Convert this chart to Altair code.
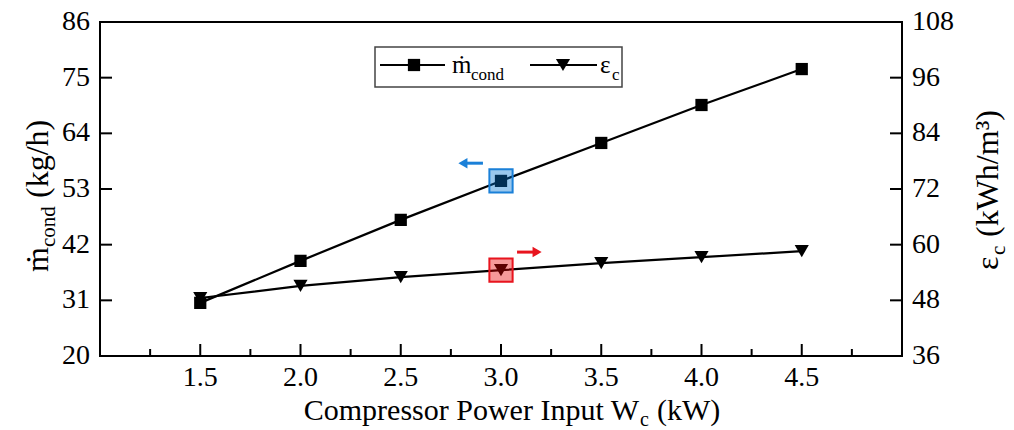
import altair as alt
import pandas as pd

# ---- data ----
power = [1.5, 2.0, 2.5, 3.0, 3.5, 4.0, 4.5]
m_cond = [30.5, 38.8, 46.9, 54.6, 62.1, 69.6, 76.7]
eps_c = [48.5, 51.1, 53.0, 54.5, 56.0, 57.3, 58.6]

x_major = [1.5, 2.0, 2.5, 3.0, 3.5, 4.0, 4.5]
x_minor = [1.25, 1.75, 2.25, 2.75, 3.25, 3.75, 4.25, 4.75]
left_ticks = [20, 31, 42, 53, 64, 75, 86]
right_ticks = [36, 48, 60, 72, 84, 96, 108]

highlight_x = 3.0
arrow_left = {"x": [2.81], "x2": [2.91], "y": [58.1]}
arrow_right = {"x": [3.08], "x2": [3.18], "y": [58.4]}

W, H = 802, 334
FONT = "Liberation Serif"
TICKFS = 28
BLUE, BLUE_F = "#1a80d8", "#0072d2"
RED, RED_F = "#e8141e", "#e60000"

df = pd.DataFrame({"P": power, "m": m_cond, "e": eps_c})

xs = alt.Scale(domain=[1.0, 5.0], nice=False, zero=False)
ls = alt.Scale(domain=[20, 86], nice=False, zero=False)
rs = alt.Scale(domain=[36, 108], nice=False, zero=False)

xq = alt.X("P:Q", scale=xs, axis=None)
one = pd.DataFrame({"a": [0]})
base = alt.Chart(df)

# ---- left group (m_cond) ----
line_m = base.mark_line(color="black", strokeWidth=2.2).encode(
    x=xq, y=alt.Y("m:Q", scale=ls, axis=None)
)
pts_m = base.mark_square(size=150, color="black", opacity=1).encode(
    x=xq, y=alt.Y("m:Q", scale=ls, axis=None)
)
hl_m = base.transform_filter(alt.datum.P == highlight_x).mark_square(
    size=540, fill=BLUE_F, fillOpacity=0.4, stroke=BLUE, strokeWidth=2
).encode(x=xq, y=alt.Y("m:Q", scale=ls, axis=None))
arr_l_df = pd.DataFrame(arrow_left)
arr_l = alt.Chart(arr_l_df).mark_rule(color=BLUE, strokeWidth=3).encode(
    x=alt.X("x:Q", scale=xs, axis=None), x2="x2:Q", y=alt.Y("y:Q", scale=ls, axis=None)
)
arr_l_head = alt.Chart(arr_l_df).mark_point(shape="triangle-left", size=110, filled=True, color=BLUE, opacity=1).encode(
    x=alt.X("x:Q", scale=xs, axis=None), y=alt.Y("y:Q", scale=ls, axis=None)
)
xt_major = alt.Chart(pd.DataFrame({"v": x_major})).mark_rule(color="black", strokeWidth=2).encode(
    x=alt.X("v:Q", scale=xs, axis=None), y=alt.value(H), y2=alt.value(H - 12)
)
xt_minor = alt.Chart(pd.DataFrame({"v": x_minor})).mark_rule(color="black", strokeWidth=2).encode(
    x=alt.X("v:Q", scale=xs, axis=None), y=alt.value(H), y2=alt.value(H - 7)
)
x_labels = alt.Chart(pd.DataFrame({"v": x_major})).mark_text(
    font=FONT, fontSize=TICKFS, baseline="top", align="center", color="black"
).encode(
    x=alt.X("v:Q", scale=xs, axis=None), y=alt.value(H + 8), text=alt.Text("v:Q", format=".1f")
)
lt = alt.Chart(pd.DataFrame({"v": left_ticks[1:-1]})).mark_rule(color="black", strokeWidth=2).encode(
    y=alt.Y("v:Q", scale=ls, axis=None), x=alt.value(0), x2=alt.value(12)
)
l_labels = alt.Chart(pd.DataFrame({"v": left_ticks})).mark_text(
    font=FONT, fontSize=TICKFS, baseline="middle", align="right", color="black"
).encode(
    y=alt.Y("v:Q", scale=ls, axis=None), x=alt.value(-10), text=alt.Text("v:Q", format="d")
)
left_group = alt.layer(line_m, pts_m, hl_m, arr_l, arr_l_head, xt_major, xt_minor, x_labels, lt, l_labels)

# ---- right group (eps_c) ----
line_e = base.mark_line(color="black", strokeWidth=2.2).encode(
    x=xq, y=alt.Y("e:Q", scale=rs, axis=None)
)
pts_e = base.mark_point(shape="triangle-down", size=200, filled=True, color="black", opacity=1).encode(
    x=xq, y=alt.Y("e:Q", scale=rs, axis=None)
)
hl_e = base.transform_filter(alt.datum.P == highlight_x).mark_square(
    size=540, fill=RED_F, fillOpacity=0.4, stroke=RED, strokeWidth=2
).encode(x=xq, y=alt.Y("e:Q", scale=rs, axis=None))
arr_r_df = pd.DataFrame(arrow_right)
arr_r = alt.Chart(arr_r_df).mark_rule(color=RED, strokeWidth=3).encode(
    x=alt.X("x:Q", scale=xs, axis=None), x2="x2:Q", y=alt.Y("y:Q", scale=rs, axis=None)
)
arr_r_head = alt.Chart(arr_r_df).mark_point(shape="triangle-right", size=110, filled=True, color=RED, opacity=1).encode(
    x=alt.X("x2:Q", scale=xs, axis=None), y=alt.Y("y:Q", scale=rs, axis=None)
)
rt = alt.Chart(pd.DataFrame({"v": right_ticks[1:-1]})).mark_rule(color="black", strokeWidth=2).encode(
    y=alt.Y("v:Q", scale=rs, axis=None), x=alt.value(W), x2=alt.value(W - 12)
)
r_labels = alt.Chart(pd.DataFrame({"v": right_ticks})).mark_text(
    font=FONT, fontSize=TICKFS, baseline="middle", align="left", color="black"
).encode(
    y=alt.Y("v:Q", scale=rs, axis=None), x=alt.value(W + 10), text=alt.Text("v:Q", format="d")
)
right_group = alt.layer(line_e, pts_e, hl_e, arr_r, arr_r_head, rt, r_labels)


# ---- text helpers (titles / legend) ----
def txt(s, x, y, size, angle=0, align="left"):
    return alt.Chart(pd.DataFrame({"t": [s]})).mark_text(
        font=FONT, fontSize=size, angle=angle, align=align, baseline="alphabetic", color="black"
    ).encode(text="t:N", x=alt.value(x), y=alt.value(y))


# x title
xw = 539
x_title = [
    txt("Compressor Power Input W", xw, 398, 30, align="right"),
    txt("c", xw + 1, 404, 20),
    txt("(kW)", xw + 18, 398, 30),
]
# left y title (rotated)
ly_title = [
    txt("ṁ", -52, 250, 32, angle=270),
    txt("cond", -45, 225, 21, angle=270),
    txt("(kg/h)", -52, 176, 32, angle=270),
]
# right y title (rotated)
ry_title = [
    txt("ε", 898, 248, 32, angle=270),
    txt("c", 905, 233, 21, angle=270),
    txt("(kWh/m³)", 898, 215, 32, angle=270),
]

# legend
leg_box = alt.Chart(one).mark_rect(fill="white", stroke="#444444", strokeWidth=1.5).encode(
    x=alt.value(275), x2=alt.value(522), y=alt.value(25), y2=alt.value(65)
)
leg_l1 = alt.Chart(one).mark_rule(color="black", strokeWidth=2).encode(
    x=alt.value(280), x2=alt.value(345), y=alt.value(43)
)
leg_p1 = alt.Chart(one).mark_square(size=150, color="black", opacity=1).encode(
    x=alt.value(314), y=alt.value(43)
)
leg_l2 = alt.Chart(one).mark_rule(color="black", strokeWidth=2).encode(
    x=alt.value(430), x2=alt.value(497), y=alt.value(43)
)
leg_p2 = alt.Chart(one).mark_point(shape="triangle-down", size=200, filled=True, color="black", opacity=1).encode(
    x=alt.value(463), y=alt.value(43)
)
leg_txt = [
    txt("ṁ", 352, 51, 25),
    txt("cond", 371, 58, 17),
    txt("ε", 500, 51, 25),
    txt("c", 512, 58, 17),
]

chart = alt.layer(
    left_group, right_group, leg_box, leg_l1, leg_p1, leg_l2, leg_p2,
    *leg_txt, *x_title, *ly_title, *ry_title
).resolve_scale(y="independent").properties(
    width=W, height=H,
    autosize=alt.AutoSizeParams(type="none"),
    padding={"left": 100, "top": 22, "right": 112, "bottom": 74},
    background="white",
).configure_view(stroke="black", strokeWidth=2)

chart.save("out.html", embed_options={"renderer": "svg", "actions": False})
